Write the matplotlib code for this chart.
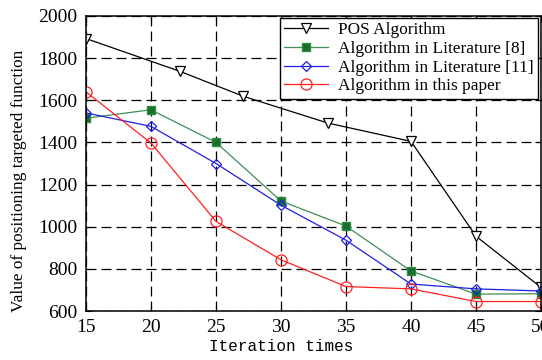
import numpy as np
import matplotlib
matplotlib.use("Agg")
import matplotlib.pyplot as plt

# iteration axis
iters = [15, 20, 25, 30, 35, 40, 45, 50]

# POS algorithm (markers sit off the grid columns in the source figure)
pos_x = [15, 22.2, 27.1, 33.6, 40, 45, 50]
pos_y = [1893, 1738, 1619, 1492, 1405, 955, 712]

lit8 = [1515, 1555, 1400, 1122, 1003, 790, 680, 682]
lit11 = [1540, 1476, 1300, 1102, 936, 728, 705, 695]
ours = [1640, 1397, 1025, 843, 716, 705, 645, 645]

labels = ["POS Algorithm", "Algorithm in Literature [8]",
          "Algorithm in Literature [11]", "Algorithm in this paper"]

fig = plt.figure(figsize=(5.42, 3.6), dpi=100)
ax = fig.add_axes([86 / 542, 1 - 311 / 360, 455 / 542, 295 / 360])

ax.plot(pos_x, pos_y, color="black", lw=0.9, marker="v", ms=7,
        mfc="white", mec="black", mew=0.9, label=labels[0])
ax.plot(iters, lit8, color="#3f8f55", lw=0.9, marker="s", ms=5.5,
        mfc="#16702c", mec="#2f8a45", label=labels[1])
ax.plot(iters, lit11, color="#1f1fe0", lw=0.9, marker="D", ms=5.5,
        mfc="none", mec="#1f1fe0", mew=0.9, label=labels[2])
ax.plot(iters, ours, color="#ff2020", lw=0.9, marker="o", ms=8,
        mfc="none", mec="#ff2020", mew=0.9, label=labels[3])

ax.set_xlim(15, 50)
ax.set_ylim(600, 2000)
ax.set_xticks(iters)
ax.set_yticks(np.arange(600, 2001, 200))

ax.grid(True, color="black", linestyle=(0, (8, 4)), linewidth=0.9)
ax.tick_params(direction="in", top=True, right=True, length=4,
               labelsize=14, pad=6)
for lab in ax.get_xticklabels() + ax.get_yticklabels():
    lab.set_family("Liberation Serif")
for sp in ax.spines.values():
    sp.set_linewidth(1.1)

ax.set_xlabel("Iteration times", family="Liberation Mono", fontsize=11.5)
ax.xaxis.set_label_coords(0.43, -0.095)
ax.set_ylabel("Value of positioning targeted function",
              family="Liberation Serif", fontsize=12.4)
ax.yaxis.set_label_coords(-0.13, 0.44)

leg = ax.legend(loc="upper right", bbox_to_anchor=(0.993, 0.993),
                borderaxespad=0, fancybox=False, framealpha=1,
                edgecolor="black", handlelength=2.5, handletextpad=0.6,
                labelspacing=0.15, borderpad=0.25,
                prop={"family": "Liberation Serif", "size": 12.4})
leg.get_frame().set_linewidth(1.0)

fig.savefig("out.png", dpi=100)
